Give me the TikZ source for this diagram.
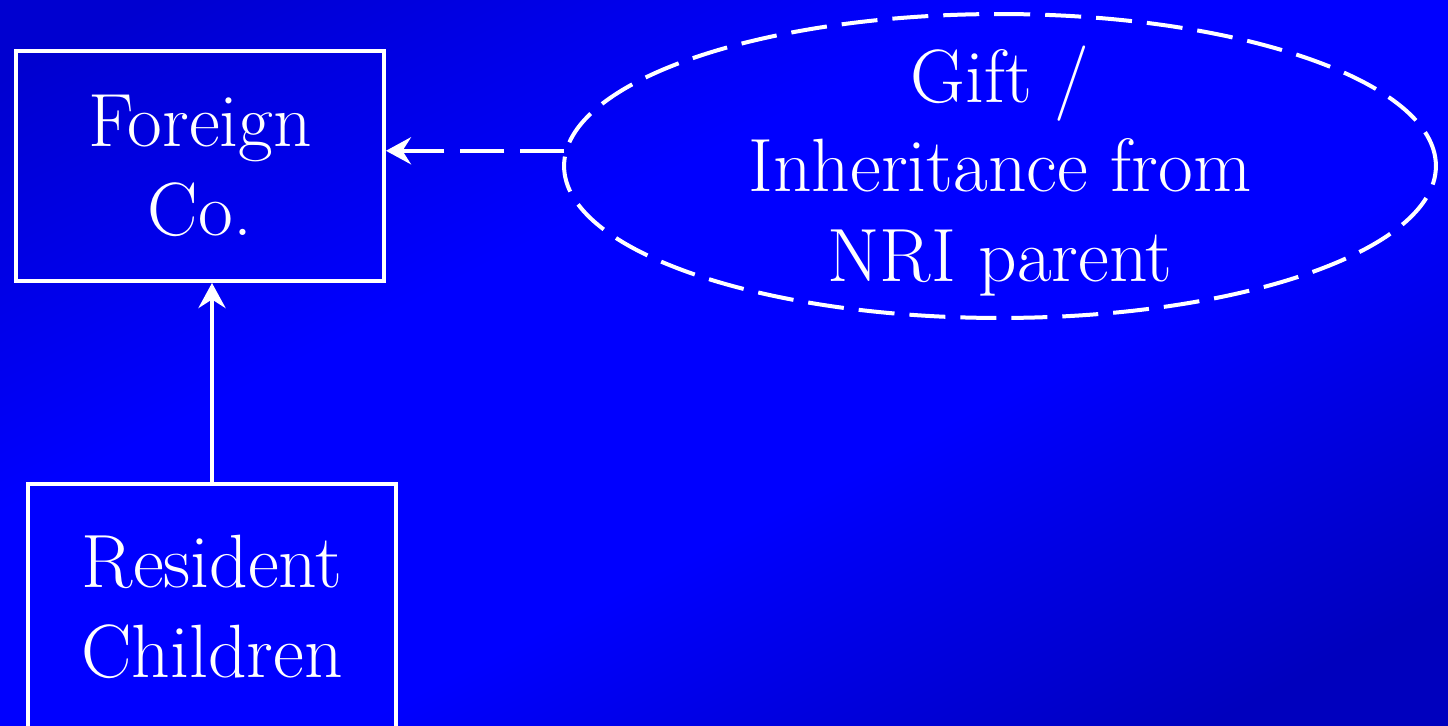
\documentclass[tikz,border=0pt]{standalone}
\usetikzlibrary{shapes.geometric,arrows.meta}
\definecolor{bgdark}{RGB}{0,0,208}
\definecolor{bgdeep}{RGB}{0,0,190}
\definecolor{bgbright}{RGB}{0,0,255}
% diagonal backdrop: dark corners, bright band in between
\pgfdeclareverticalshading{backdrop}{100bp}{color(0bp)=(bgdeep); color(22bp)=(bgdeep);
  color(42bp)=(bgbright); color(60bp)=(bgbright); color(80bp)=(bgdark); color(100bp)=(bgdark)}
\begin{document}
\begin{tikzpicture}[x=0.02cm,y=0.02cm,
  lbl/.style={text=white, align=center, font=\fontsize{43}{51}\selectfont},
  entity/.style={lbl, draw=white, line width=0.08cm, inner sep=0pt, minimum width=7.36cm},
  giftshape/.style={ellipse, draw=white, line width=0.08cm, dash pattern=on 0.72cm off 0.3cm,
    inner sep=0pt, minimum width=17.44cm, minimum height=6.08cm},
  link/.style={white, line width=0.09cm, -{Stealth[length=0.5cm, width=0.54cm, inset=0.17cm]}},
]
% background
\useasboundingbox (0,0) rectangle (1448,725);
\shade[shading=backdrop, shading angle=27] (0,0) rectangle (1448,725);

% boxes
\node[entity, minimum height=4.6cm] (fc) at (200,559) {Foreign\\Co.};
\node[entity, minimum height=4.92cm] (rc) at (212,118) {Resident\\Children};

% gift / inheritance ellipse and its text
\node[giftshape] (nri) at (1000,559) {};
\node[lbl] (nritxt) at (1000,554) {Gift /\\Inheritance from\\NRI parent};

% connectors
\draw[link] (rc.north) -- (rc.north |- fc.south);
\draw[link, dash pattern=on 0.88cm off 0.32cm] (nri.178.3) -- (fc.east |- nri.178.3);
\end{tikzpicture}
\end{document}
